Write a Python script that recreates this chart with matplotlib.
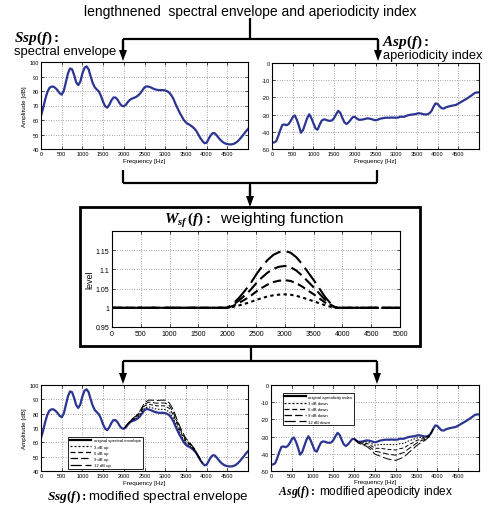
import numpy as np
import matplotlib
matplotlib.use("Agg")
import matplotlib.pyplot as plt
from matplotlib.lines import Line2D
from matplotlib.patches import Polygon, Rectangle

plt.rcParams['font.family'] = ['Liberation Sans', 'DejaVu Sans']
plt.rcParams['mathtext.fontset'] = 'custom'
plt.rcParams['mathtext.bf'] = 'Liberation Serif:bold'
plt.rcParams['mathtext.bfit'] = 'Liberation Serif:italic:bold'
plt.rcParams['mathtext.it'] = 'Liberation Serif:italic'
plt.rcParams['mathtext.rm'] = 'Liberation Serif'
plt.rcParams['axes.unicode_minus'] = False

# ---------------- data ----------------
freq = np.arange(0, 5001, 50)
spectral_envelope = [
    63, 68, 74, 79, 82, 83, 83, 82, 80.5, 78.5,
    77.5, 80, 86, 92, 95.5, 95, 91, 86, 84, 86.5,
    92, 96, 97, 95, 90, 85.5, 82.5, 81, 79.5, 76.5,
    72.5, 69.5, 68.5, 70.5, 73.5, 75.5, 75.5, 74, 71.5, 69.8,
    69.5, 70.5, 72.5, 74, 74.8, 75.3, 76, 77, 78.5, 80.5,
    82.5, 83.2, 83, 82.5, 81.8, 81.2, 80.8, 80.6, 80.6, 80.6,
    80.4, 79.8, 78.8, 77, 74.5, 71, 68, 65, 62.5, 60,
    58.3, 57.3, 56.5, 55.5, 54.2, 52.5, 50, 47.5, 45.5, 44,
    44.3, 47, 49.5, 51, 50.8, 49.2, 47.3, 45.8, 44.6, 43.8,
    43.4, 43.2, 43.2, 43.5, 44.2, 45.3, 46.8, 48.5, 50.3, 52.2,
    53.8]
aperiodicity = [
    -46.3, -46.2, -45.5, -42.5, -39, -36, -35.7, -36.2, -35.5, -33.8,
    -31.5, -30.5, -33, -36.5, -40.5, -39, -35.5, -32, -29.8, -32,
    -35, -38, -38.8, -36, -33.5, -32.8, -33, -33.5, -33.6, -33.4,
    -32, -29.8, -27.8, -29, -32, -34.5, -35.5, -34.5, -33, -31.5,
    -31.3, -32.3, -33, -33, -32.8, -32.5, -32.2, -32.3, -32.6, -33,
    -33.3, -33, -32.5, -32.2, -32, -31.8, -31.8, -31.8, -31.7, -31.8,
    -31.8, -31.7, -31.2, -31.3, -31.2, -30.7, -30.3, -30.1, -29.9, -29.8,
    -29.4, -29.2, -29.4, -29.7, -30, -29.8, -29.3, -28, -25.5, -23.5,
    -23.8, -25.2, -26.3, -26.5, -25.8, -25.4, -25.1, -24.8, -24.6, -24.3,
    -23.6, -22.9, -22.2, -21.5, -20.8, -20, -19.2, -18.3, -17.4, -17.1,
    -17.1]

# weighting function bump (normalised shape), 2000..3900 Hz every 100 Hz
bump_freq = np.arange(2000, 3901, 100)
bump_shape = [0, 0.07, 0.17, 0.29, 0.42, 0.58, 0.72, 0.84, 0.93, 0.98,
              1.0, 0.97, 0.89, 0.77, 0.63, 0.49, 0.34, 0.19, 0.07, 0.0]
weight_peaks = [0.035, 0.072, 0.109, 0.148]       # level above 1 at peak
env_peak_shift = [2.5, 5, 7, 9]                    # dB shift seen in Ssg plot
ap_peak_shift = [3, 6, 9, 12]                      # dB shift seen in Asg plot
mod_labels_up = ['3 dB up', '6 dB up', '9 dB up', '12 dB up']
mod_labels_down = ['3 dB down', '6 dB down', '9 dB down', '12 dB down']

BLUE = '#2b3592'
dashes = [(0, (1.6, 1.6)), (0, (4, 2.2)), (0, (6, 2.5)), (0, (9, 3))]

W, H = 492, 510
fig = plt.figure(figsize=(W / 100, H / 100), dpi=100)


def ax_px(x0, y0, x1, y1):
    return fig.add_axes([x0 / W, 1 - y1 / H, (x1 - x0) / W, (y1 - y0) / H])


def style(ax, ylim, yticks, ylab=None, tfs=4, xpad=1.5):
    ax.set_xlim(0, 5000)
    ax.set_ylim(*ylim)
    ax.set_xticks(np.arange(0, 4501, 500))
    ax.set_yticks(yticks)
    ax.tick_params(direction='in', length=2, width=0.5, labelsize=tfs, pad=1.5,
                   top=True, right=True)
    ax.grid(True, color='#555555', linestyle=(0, (1, 2.5)), linewidth=0.5)
    for s in ax.spines.values():
        s.set_linewidth(0.8)
    ax.set_xlabel('Frequency [Hz]', fontsize=4.5, labelpad=xpad)
    if ylab:
        ax.set_ylabel(ylab, fontsize=4.5, labelpad=2)


freq_arr = np.array(freq)
env = np.array(spectral_envelope)
ap = np.array(aperiodicity)
idx = np.searchsorted(freq_arr, bump_freq)
shape = np.array(bump_shape)

# ---- top left
ax1 = ax_px(41, 63, 248, 150)
ax1.plot(freq_arr, env, color=BLUE, lw=1.6)
style(ax1, (40, 100), np.arange(40, 101, 10), 'Amplitude [dB]')

# ---- top right
ax2 = ax_px(272, 64, 479, 150)
ax2.plot(freq_arr, ap, color=BLUE, lw=1.6)
style(ax2, (-50, 0), np.arange(-50, 1, 10))

# ---- middle
axm = ax_px(112, 232, 400, 328)
wf_full = np.concatenate([[0], bump_freq, [5000]])
for pk, ls in zip(weight_peaks, dashes):
    lvl = np.concatenate([[1], 1 + pk * shape, [1]])
    axm.plot(wf_full, lvl, color='black', lw=1.5, linestyle=ls)
axm.set_xlim(0, 5000)
axm.set_ylim(0.95, 1.2)
axm.set_xticks(np.arange(0, 5001, 500))
axm.set_yticks([0.95, 1, 1.05, 1.1, 1.15])
axm.set_yticklabels(['0.95', '1', '1.05', '1.1', '1.15'])
axm.tick_params(direction='in', length=2, width=0.5, labelsize=5, pad=2,
                top=True, right=True)
axm.grid(True, color='#555555', linestyle=(0, (1, 2.5)), linewidth=0.5)
axm.set_ylabel('level', fontsize=6.5, labelpad=1)

# ---- bottom left
ax3 = ax_px(41, 386, 248, 472)
ax3.plot(freq_arr, env, color=BLUE, lw=1.6, zorder=2)
h = [Line2D([], [], color='black', lw=1.6)]
for sh, ls in zip(env_peak_shift, dashes):
    ax3.plot(bump_freq, env[idx] + sh * shape, color='black', lw=0.7,
             linestyle=ls, zorder=3)
    h.append(Line2D([], [], color='black', lw=0.9, linestyle=ls))
style(ax3, (40, 100), np.arange(40, 101, 10), 'Amplitude [dB]')
leg = ax3.legend(h, ['original spectral envelope'] + mod_labels_up,
                 loc='lower left', bbox_to_anchor=(0.12, 0.0), fontsize=3.1,
                 handlelength=5, handletextpad=0.6, borderpad=0.4,
                 labelspacing=0.5, fancybox=False, framealpha=1,
                 edgecolor='black')
leg.get_frame().set_linewidth(0.6)

# ---- bottom right
ax4 = ax_px(271, 386, 479, 472)
ax4.plot(freq_arr, ap, color=BLUE, lw=1.6, zorder=2)
h = [Line2D([], [], color='black', lw=1.6)]
for sh, ls in zip(ap_peak_shift, dashes):
    ax4.plot(bump_freq, ap[idx] - sh * shape, color='black', lw=0.7,
             linestyle=ls, zorder=3)
    h.append(Line2D([], [], color='black', lw=0.9, linestyle=ls))
style(ax4, (-50, 0), np.arange(-50, 1, 10), xpad=0.8)
leg = ax4.legend(h, ['original apeodicity index'] + mod_labels_down,
                 loc='upper left', bbox_to_anchor=(0.045, 0.93), fontsize=3.1,
                 handlelength=5, handletextpad=0.6, borderpad=0.4,
                 labelspacing=0.5, fancybox=False, framealpha=1,
                 edgecolor='black')
leg.get_frame().set_linewidth(0.6)

# ---- overlay: connectors, box, texts
ov = fig.add_axes([0, 0, 1, 1], zorder=-1)
ov.set_xlim(0, W)
ov.set_ylim(H, 0)
ov.axis('off')


def line(xs, ys, lw=1.6):
    ov.add_line(Line2D(xs, ys, color='black', lw=lw, solid_capstyle='butt'))


def arrow(x, ytip):
    line([x, x], [ytip - 20, ytip - 9])
    ov.add_patch(Polygon([[x, ytip], [x - 4, ytip - 11], [x + 4, ytip - 11]],
                         closed=True, color='black', lw=0))


# top connector
line([250, 250], [19, 40])
line([123, 378], [40, 40])
line([123, 123], [40, 52]); line([378, 378], [40, 52])
arrow(123, 62)
arrow(378, 62)
# middle connector
line([123, 123], [171, 184]); line([377, 377], [171, 184])
line([123, 377], [184, 184])
line([250, 250], [184, 197])
arrow(250, 208)
# box
ov.add_patch(Rectangle((80, 208), 340, 139, fill=False, lw=2, ec='black'))
# bottom connector
line([251, 251], [347, 362])
line([123, 377], [362, 362])
line([123, 123], [362, 374]); line([377, 377], [362, 374])
arrow(123, 385)
arrow(377, 385)

# texts
fig.text(250 / W, 1 - 12 / H, 'lengthnened  spectral envelope and aperiodicity index',
         ha='center', va='center', fontsize=10)
fig.text(14 / W, 1 - 38 / H, r'$\mathbfit{Ssp}\mathbf{(}\mathbfit{f}\mathbf{):}$',
         ha='left', va='center', fontsize=11)
fig.text(14 / W, 1 - 52 / H, 'spectral envelope', ha='left', va='center', fontsize=9.4)
fig.text(382 / W, 1 - 42 / H, r'$\mathbfit{Asp}\mathbf{(}\mathbfit{f}\mathbf{):}$',
         ha='left', va='center', fontsize=11)
fig.text(383 / W, 1 - 56 / H, 'aperiodicity index', ha='left', va='center', fontsize=9.3)
fig.text(254 / W, 1 - 221 / H,
         r'$\mathbfit{W}_{\mathbfit{sf}}\,\mathbf{(}\mathbfit{f}\mathbf{):}$  weighting function',
         ha='center', va='center', fontsize=11)
fig.text(47 / W, 1 - 497 / H,
         r'$\mathbfit{Ssg}\mathbf{(}\mathbfit{f}\mathbf{):}$modified spectral envelope',
         ha='left', va='center', fontsize=9.6)
fig.text(278 / W, 1 - 492 / H,
         r'$\mathbfit{Asg}\mathbf{(}\mathbfit{f}\mathbf{):}$ modified apeodicity index',
         ha='left', va='center', fontsize=8.5)

fig.savefig('out.png', dpi=100)
